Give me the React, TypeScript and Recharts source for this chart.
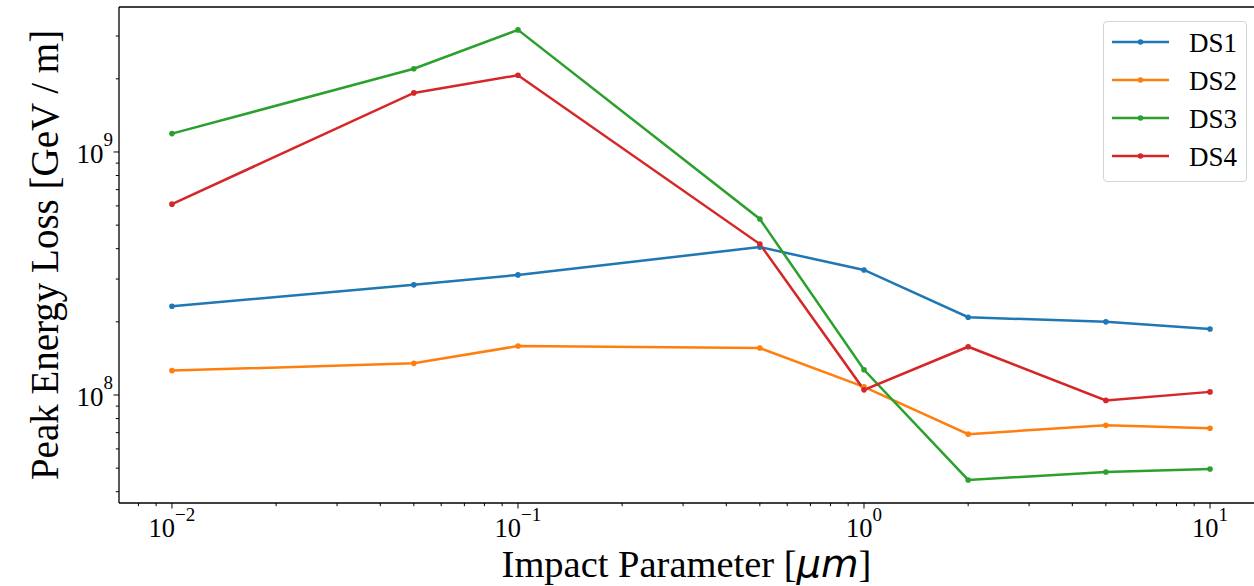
import React from 'react';
import { LineChart, Line, XAxis, YAxis, ReferenceLine, Legend } from 'recharts';

// impact parameter in µm, peak energy loss in GeV / m
const IMPACT = [0.01, 0.05, 0.1, 0.5, 1, 2, 5, 10];
const DS1 = [2.32e8, 2.84e8, 3.12e8, 4.06e8, 3.27e8, 2.09e8, 2.0e8, 1.87e8];
const DS2 = [1.26e8, 1.35e8, 1.59e8, 1.56e8, 1.08e8, 6.9e7, 7.5e7, 7.3e7];
const DS3 = [1.19e9, 2.2e9, 3.18e9, 5.3e8, 1.27e8, 4.47e7, 4.82e7, 4.96e7];
const DS4 = [6.1e8, 1.75e9, 2.07e9, 4.18e8, 1.05e8, 1.58e8, 9.5e7, 1.03e8];

const X_MAJOR = [0.01, 0.1, 1, 10];
const X_MINOR = [
  0.008, 0.009, 0.02, 0.03, 0.04, 0.05, 0.06, 0.07, 0.08, 0.09,
  0.2, 0.3, 0.4, 0.5, 0.6, 0.7, 0.8, 0.9, 2, 3, 4, 5, 6, 7, 8, 9,
];
const Y_MAJOR = [1e8, 1e9];
const Y_MINOR = [4e7, 5e7, 6e7, 7e7, 8e7, 9e7, 2e8, 3e8, 4e8, 5e8, 6e8, 7e8, 8e8, 9e8, 2e9, 3e9];

const X_DOMAIN = [0.00703, 13.4];
const Y_DOMAIN = [3.594e7, 3.95e9];

const SERIES = [
  { key: 'DS1', values: DS1, color: '#1f77b4' },
  { key: 'DS2', values: DS2, color: '#ff7f0e' },
  { key: 'DS3', values: DS3, color: '#2ca02c' },
  { key: 'DS4', values: DS4, color: '#d62728' },
];

const data = IMPACT.map((x, i) => {
  const row: Record<string, number> = { x };
  SERIES.forEach((s) => (row[s.key] = s.values[i]));
  return row;
});

const FONT = '"Liberation Serif", "Times New Roman", serif';

const expLabel = (v: number) => {
  const e = Math.round(Math.log10(v));
  return e < 0 ? `\u2212${-e}` : `${e}`;
};

const isMajor = (list: number[], v: number) => list.some((m) => Math.abs(m - v) / m < 1e-9);

const XTick = (props: any) => {
  const { x, y, payload } = props;
  const major = isMajor(X_MAJOR, payload.value);
  return (
    <g>
      <line x1={x} x2={x} y1={y} y2={y + (major ? 5.5 : 3.2)} stroke="#000" strokeWidth={1} />
      {major && (
        <text x={x} y={y + 34} textAnchor="middle" fontFamily={FONT} fontSize={26.5} fill="#000">
          10
          <tspan dy={-16} fontSize={19}>
            {expLabel(payload.value)}
          </tspan>
        </text>
      )}
    </g>
  );
};

const YTick = (props: any) => {
  const { x, y, payload } = props;
  const major = isMajor(Y_MAJOR, payload.value);
  return (
    <g>
      <line x1={x} x2={x - (major ? 5.5 : 3.2)} y1={y} y2={y} stroke="#000" strokeWidth={1} />
      {major && (
        <text x={x - 6} y={y + 11} textAnchor="end" fontFamily={FONT} fontSize={27} fill="#000">
          10
          <tspan dy={-17} fontSize={19}>
            {expLabel(payload.value)}
          </tspan>
        </text>
      )}
    </g>
  );
};

const XTitle = (props: any) => {
  const { viewBox } = props;
  const cx = viewBox.x + viewBox.width / 2;
  return (
    <text x={cx} y={viewBox.y + 74} textAnchor="middle" fontFamily={FONT} fontSize={38.5} fill="#000">
      Impact Parameter [
      <tspan fontFamily='"DejaVu Sans", sans-serif' fontStyle="italic">
        μm
      </tspan>
      ]
    </text>
  );
};

const YTitle = (props: any) => {
  const { viewBox } = props;
  const bx = viewBox.x + viewBox.width - 61;
  const cy = viewBox.y + viewBox.height / 2;
  return (
    <text
      x={bx}
      y={cy}
      transform={`rotate(-90, ${bx}, ${cy})`}
      textAnchor="middle"
      fontFamily={FONT}
      fontSize={39}
      fill="#000"
    >
      Peak Energy Loss [GeV / m]
    </text>
  );
};

const LegendBox = () => (
  <div
    style={{
      width: 144,
      height: 161,
      boxSizing: 'border-box',
      border: '1px solid #d4d4d4',
      borderRadius: 4,
      background: 'rgba(255,255,255,0.8)',
    }}
  >
    <svg width={142} height={159} style={{ display: 'block' }}>
      {SERIES.map((s, i) => {
        const cy = 20 + i * 38;
        return (
          <g key={s.key}>
            <line x1={8} x2={65} y1={cy} y2={cy} stroke={s.color} strokeWidth={2.5} />
            <circle cx={36.5} cy={cy} r={2.8} fill={s.color} />
            <text x={85} y={cy + 9.5} fontFamily={FONT} fontSize={27} fill="#000">
              {s.key}
            </text>
          </g>
        );
      })}
    </svg>
  </div>
);

export default function App() {
  return (
    <div style={{ position: 'absolute', left: 0, top: 0, background: '#fff' }}>
      <LineChart width={1254} height={586} data={data} margin={{ top: 7, right: 0, left: 59, bottom: 0 }}>
        <XAxis
          dataKey="x"
          type="number"
          scale="log"
          domain={X_DOMAIN}
          allowDataOverflow
          ticks={[...X_MAJOR, ...X_MINOR]}
          interval={0}
          tick={<XTick />}
          tickLine={false}
          tickSize={0}
          tickMargin={0}
          height={83}
          axisLine={{ stroke: '#000', strokeWidth: 1.3 }}
          label={<XTitle />}
        />
        <YAxis
          type="number"
          scale="log"
          domain={Y_DOMAIN}
          allowDataOverflow
          ticks={[...Y_MAJOR, ...Y_MINOR]}
          interval={0}
          tick={<YTick />}
          tickLine={false}
          tickSize={0}
          tickMargin={0}
          width={60}
          axisLine={{ stroke: '#000', strokeWidth: 1.3 }}
          label={<YTitle />}
        />
        <ReferenceLine y={Y_DOMAIN[1]} stroke="#000" strokeWidth={1.3} />
        {SERIES.map((s) => (
          <Line
            key={s.key}
            dataKey={s.key}
            type="linear"
            stroke={s.color}
            strokeWidth={2.5}
            dot={{ r: 2.8, fill: s.color, stroke: 'none' }}
            activeDot={false}
            isAnimationActive={false}
          />
        ))}
        <Legend
          layout="horizontal"
          verticalAlign="middle"
          align="center"
          content={<LegendBox />}
          wrapperStyle={{ top: 21, left: 1103, width: 144, height: 161 }}
        />
      </LineChart>
    </div>
  );
}
